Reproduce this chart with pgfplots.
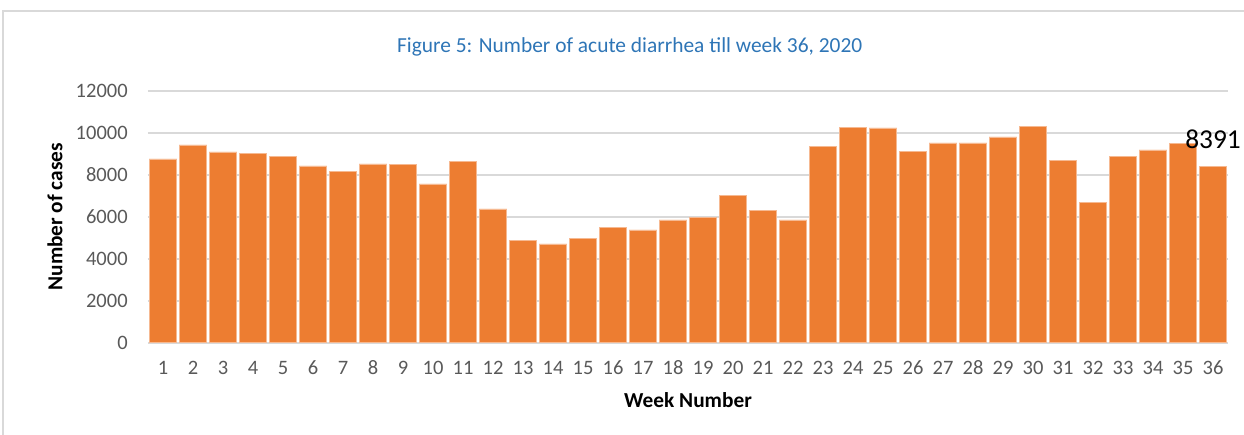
\documentclass[border=0pt]{standalone}
\usepackage{pgfplots}
\pgfplotsset{compat=1.18}
\usepackage{fontspec}
\setmainfont{Carlito}
\definecolor{barc}{HTML}{ED7D31}
\definecolor{barb}{HTML}{F6B991}
\definecolor{gridc}{HTML}{D9D9D9}
\definecolor{tickc}{HTML}{595959}
\definecolor{titlec}{HTML}{2E75B6}
\begin{document}
\begin{tikzpicture}
\useasboundingbox (0,0) rectangle (746.4pt,261pt);
\draw[gridc, line width=0.8pt] (1.8pt,-5pt) rectangle (760pt,254.4pt);
\begin{axis}[
  at={(88.8pt,55.38pt)}, anchor=south west,
  scale only axis, width=648pt, height=151.2pt,
  xmin=0.5, xmax=36.5, ymin=0, ymax=12000,
  xtick={1,...,36}, ytick={0,2000,...,12000},
  scaled y ticks=false,
  /pgf/number format/.cd, set thousands separator={}, assume math mode=true,
  /pgfplots/.cd,
  axis x line*=bottom, axis y line*=left,
  x axis line style={gridc, line width=1pt, -},
  y axis line style={draw=none},
  major tick length=0pt,
  ymajorgrids, grid style={gridc, line width=1pt},
  ticklabel style={font=\fontsize{12.3pt}{14pt}\selectfont, text=tickc, inner sep=0pt},
  xticklabel style={anchor=center, yshift=-14.9pt},
  yticklabel style={anchor=east, xshift=-12pt},
  xlabel={\textbf{Week Number}},
  xlabel style={at={(axis description cs:0.5,-0.227)}, anchor=center, font=\fontsize{12.8pt}{15pt}\selectfont},
  ylabel={\textbf{Number of cases}},
  ylabel style={at={(axis description cs:-0.0861,0.5)}, anchor=center, font=\fontsize{12.8pt}{15pt}\selectfont},
  title={Figure 5: Number of acute diarrhea till week 36, 2020},
  title style={at={(axis description cs:0.446,1.133)}, anchor=center, yshift=0pt, text=titlec, font=\fontsize{12.85pt}{15pt}\selectfont},
  clip=false,
]
\addplot[ybar, bar width=0.92, fill=barc, draw=barb, line width=0.4pt] coordinates {
(1,8748) (2,9414) (3,9081) (4,9017) (5,8857) (6,8414) (7,8160) (8,8510) (9,8478)
(10,7557) (11,8637) (12,6367) (13,4875) (14,4700) (15,4970) (16,5494) (17,5367)
(18,5843) (19,5970) (20,7017) (21,6303) (22,5843) (23,9350) (24,10255) (25,10224)
(26,9113) (27,9510) (28,9510) (29,9795) (30,10286) (31,8667) (32,6684) (33,8857)
(34,9176) (35,9493) (36,8391)
};
\node[font=\fontsize{16.4pt}{19pt}\selectfont, inner sep=0pt] at (axis cs:36,9700) {8391};
\end{axis}
\end{tikzpicture}
\end{document}
